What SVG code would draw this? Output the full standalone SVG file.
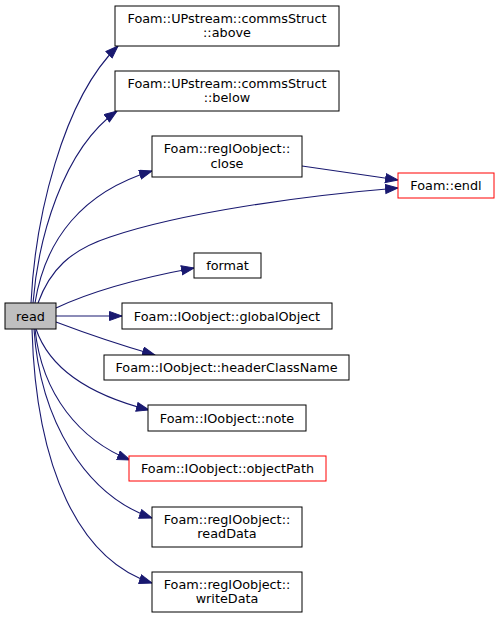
<svg xmlns="http://www.w3.org/2000/svg" width="499" height="619" viewBox="0 0 499 619">
<defs>
<style>
.box{fill:#ffffff;stroke:#000000;stroke-width:1}
.red{fill:#ffffff;stroke:#ff0000;stroke-width:1}
.cur{fill:#bfbfbf;stroke:#000000;stroke-width:1}
text{font-family:"DejaVu Sans","Liberation Sans",sans-serif;font-size:12.8px;fill:#000000;text-anchor:middle}
.edge{fill:none;stroke:#191970;stroke-width:1.1;marker-end:url(#arr)}
</style>
<marker id="arr" markerUnits="userSpaceOnUse" markerWidth="14" markerHeight="11" refX="13" refY="5" orient="auto">
<path d="M0.5,0.5 L13,5 L0.5,9.5 z" fill="#191970" stroke="#191970" stroke-width="1"/>
</marker>
</defs>
<rect width="499" height="619" fill="#ffffff"/>
<g id="edges">
<path class="edge" d="M31,303 C35,220 62,100 118,46"/>
<path class="edge" d="M33,303 C38,240 62,150 117,111"/>
<path class="edge" d="M35,303 C45,240 82,192 152,171"/>
<path class="edge" d="M38,303 C50,270 70,250 110,237 C180,213 300,196 398,188"/>
<path class="edge" d="M302,166 C330,170 365,175 398,180"/>
<path class="edge" d="M56,308 C90,292 140,278 194,268"/>
<path class="edge" d="M56,316 L122,316"/>
<path class="edge" d="M56,322 C85,333 120,345 155,355"/>
<path class="edge" d="M36,329 C50,370 90,395 149,410"/>
<path class="edge" d="M35,329 C42,395 80,440 130,460"/>
<path class="edge" d="M34,329 C40,420 85,495 152,518"/>
<path class="edge" d="M32,329 C36,470 80,560 152,583"/>
</g>
<g id="read"><rect class="cur" x="5" y="303" width="51" height="26"/><text x="30.5" y="320.5">read</text></g>
<g id="above"><rect class="box" x="115" y="6" width="224" height="40"/><text x="227" y="22.5">Foam::UPstream::commsStruct</text><text x="227" y="37">::above</text></g>
<g id="below"><rect class="box" x="115" y="71" width="224" height="40"/><text x="227" y="87.5">Foam::UPstream::commsStruct</text><text x="227" y="102">::below</text></g>
<g id="close"><rect class="box" x="152" y="136" width="150" height="41"/><text x="227" y="153">Foam::regIOobject::</text><text x="227" y="167.5">close</text></g>
<g id="endl"><rect class="red" x="398" y="173" width="96" height="25"/><text x="446" y="190">Foam::endl</text></g>
<g id="format"><rect class="box" x="194" y="253" width="67" height="25"/><text x="227.5" y="270">format</text></g>
<g id="globalObject"><rect class="box" x="122" y="303" width="210" height="26"/><text x="227" y="320.5">Foam::IOobject::globalObject</text></g>
<g id="headerClassName"><rect class="box" x="104" y="355" width="245" height="25"/><text x="226.5" y="372">Foam::IOobject::headerClassName</text></g>
<g id="note"><rect class="box" x="148" y="405" width="158" height="26"/><text x="227" y="422.5">Foam::IOobject::note</text></g>
<g id="objectPath"><rect class="red" x="129" y="456" width="197" height="25"/><text x="227.5" y="473">Foam::IOobject::objectPath</text></g>
<g id="readData"><rect class="box" x="152" y="507" width="150" height="40"/><text x="227" y="523.5">Foam::regIOobject::</text><text x="227" y="538">readData</text></g>
<g id="writeData"><rect class="box" x="152" y="572" width="150" height="40"/><text x="227" y="588.5">Foam::regIOobject::</text><text x="227" y="603">writeData</text></g>
</svg>
